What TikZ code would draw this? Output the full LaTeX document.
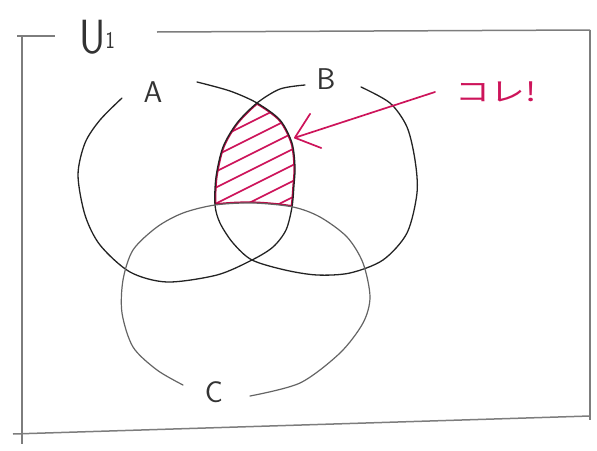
\documentclass[tikz,border=0pt]{standalone}
\usepackage{fontspec}
\newfontfamily\jpfont{Noto Sans CJK JP}
\usetikzlibrary{arrows.meta}
\definecolor{crim}{RGB}{205,20,90}
\definecolor{crimdark}{RGB}{185,10,70}
\definecolor{pencil}{RGB}{35,35,35}
\definecolor{pencilC}{RGB}{100,100,100}
\definecolor{framecol}{RGB}{125,125,125}
\begin{document}
\begin{tikzpicture}[x=1pt,y=-1pt,
  setline/.style={draw=pencil, line width=1.3pt, line cap=round, line join=round},
  setlineC/.style={draw=pencilC, line width=1.2pt, line cap=round, line join=round},
  framelin/.style={draw=framecol, line width=1.5pt},
  setlabel/.style={font=\sffamily\fontsize{30}{30}\selectfont, text=black!80, inner sep=0pt},
  hatchline/.style={draw=crim, line width=1.7pt, line cap=round},
  rimline/.style={draw=crimdark, line width=3.2pt},
  pointer/.style={draw=crim, line width=1.7pt, line cap=round,
    -{Straight Barb[length=22pt,width=36pt,line width=1.7pt,round]}},
  korelabel/.style={font=\jpfont\fontsize{31}{31}\selectfont, text=crim, inner sep=0pt, xscale=1.12, yscale=0.85}
]
\useasboundingbox (0,0) rectangle (597,450);

% frame
\draw[framelin] (17,36) -- (55,36);
\draw[framelin] (157,32) -- (590,30);
\draw[framelin] (22,36) -- (22,444);
\draw[framelin] (590,30) -- (590,420);
\draw[framelin] (13,434) -- (590,416);

% hatching of A and B without C
\begin{scope}[even odd rule]
  \clip plot[smooth cycle] coordinates {(197,82) (230,91) (257,103) (280,120) (292,143) (295,167) (294,185) (292,207) (286,230) (273,247) (252,260) (217,275) (167,282) (130,272) (100,245) (85,215) (78,175) (85,143) (100,120) (122,98)};
  \clip plot[smooth cycle] coordinates {(361,87) (390,103) (407,127) (415,160) (417,193) (407,233) (383,260) (350,273) (317,275) (285,270) (252,260) (233,243) (220,223) (215,205) (216,177) (223,147) (237,123) (257,103) (280,89) (305,85)};
  \clip (0,0) rectangle (597,450) plot[smooth cycle] coordinates {(250,396) (300,383) (340,353) (363,323) (370,297) (363,263) (347,237) (320,217) (293,207) (253,203) (215,205) (183,213) (157,227) (133,250) (123,280) (122,313) (133,347) (157,370) (183,385)};
  \foreach \c in {119,135,151,167,183,199,215}
    \draw[hatchline] (200,\c+28.5) -- (320,\c-31.5);
  \draw[rimline] plot[smooth cycle] coordinates {(197,82) (230,91) (257,103) (280,120) (292,143) (295,167) (294,185) (292,207) (286,230) (273,247) (252,260) (217,275) (167,282) (130,272) (100,245) (85,215) (78,175) (85,143) (100,120) (122,98)};
  \draw[rimline] plot[smooth cycle] coordinates {(361,87) (390,103) (407,127) (415,160) (417,193) (407,233) (383,260) (350,273) (317,275) (285,270) (252,260) (233,243) (220,223) (215,205) (216,177) (223,147) (237,123) (257,103) (280,89) (305,85)};
  \draw[rimline] plot[smooth cycle] coordinates {(250,396) (300,383) (340,353) (363,323) (370,297) (363,263) (347,237) (320,217) (293,207) (253,203) (215,205) (183,213) (157,227) (133,250) (123,280) (122,313) (133,347) (157,370) (183,385)};
\end{scope}

% sets
\draw[setline] plot[smooth] coordinates {(197,82) (230,91) (257,103) (280,120) (292,143) (295,167) (294,185) (292,207) (286,230) (273,247) (252,260) (217,275) (167,282) (130,272) (100,245) (85,215) (78,175) (85,143) (100,120) (122,98)};
\draw[setline] plot[smooth] coordinates {(361,87) (390,103) (407,127) (415,160) (417,193) (407,233) (383,260) (350,273) (317,275) (285,270) (252,260) (233,243) (220,223) (215,205) (216,177) (223,147) (237,123) (257,103) (280,89) (305,85)};
\draw[setlineC] plot[smooth] coordinates {(250,396) (300,383) (340,353) (363,323) (370,297) (363,263) (347,237) (320,217) (293,207) (253,203) (215,205) (183,213) (157,227) (133,250) (123,280) (122,313) (133,347) (157,370) (183,385)};

% labels
\node[setlabel] (labA) at (153,92) {A};
\node[setlabel] (labB) at (326,79) {B};
\node[setlabel] (labC) at (214,392) {C};
\node[setlabel, font=\sffamily\fontsize{48}{48}\selectfont, xscale=0.85, anchor=base west] (univ) at (79,53) {U\raisebox{5pt}{\fontsize{24}{24}\selectfont 1}};

% pointer
\node[korelabel] (kore) at (496,92) {コレ!};
\coordinate (arrowstart) at (435,92);
\coordinate (tip) at (294,138);
\draw[pointer] (arrowstart) -- (tip);
\end{tikzpicture}
\end{document}
